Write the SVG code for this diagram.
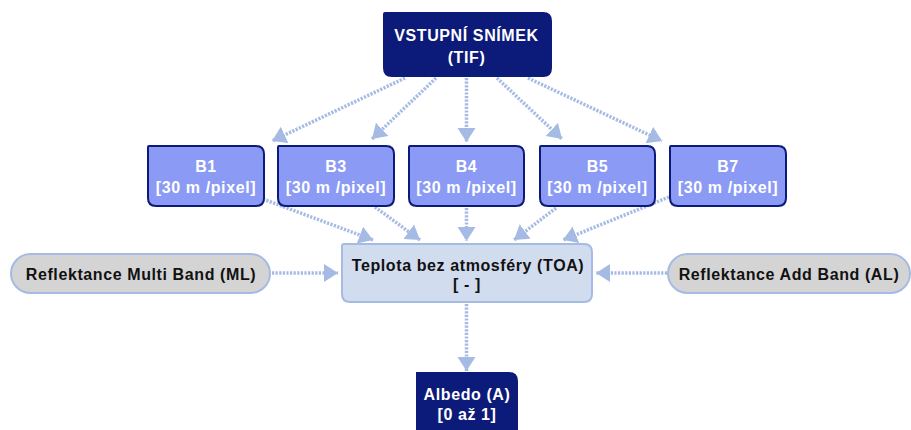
<svg xmlns="http://www.w3.org/2000/svg" width="911" height="430" viewBox="0 0 911 430">
<defs>
<marker id="arr" markerUnits="userSpaceOnUse" markerWidth="18" markerHeight="20" refX="14" refY="9" orient="auto">
<path d="M0,0 L14,9 L0,18 z" fill="#a6bbe3"/>
</marker>
<style>
.t{font-family:"Liberation Sans",Arial,sans-serif;font-weight:bold;font-size:16px;text-anchor:middle;letter-spacing:0.6px}
.w{fill:#ffffff}
.k{fill:#111111}
.dark{fill:#0c1a7a;stroke:#0c1a7a;stroke-width:2}
.band{fill:#8b9bf5;stroke:#0c1a7a;stroke-width:2}
.toa{fill:#d1dcef;stroke:#a6bbe3;stroke-width:2}
.pill{fill:#d4d4d4;stroke:#a6bbe3;stroke-width:2}
.c{fill:none;stroke:#a6bbe3;stroke-width:3.5;stroke-dasharray:2.2 1.4;marker-end:url(#arr)}
</style>
</defs>
<rect width="911" height="430" fill="#ffffff"/>
<g id="connectors">
<line class="c" x1="405" y1="78" x2="272" y2="141"/>
<line class="c" x1="436" y1="78" x2="372" y2="139"/>
<line class="c" x1="466.5" y1="78" x2="466.5" y2="142"/>
<line class="c" x1="497" y1="78" x2="562" y2="139"/>
<line class="c" x1="528" y1="78" x2="662" y2="141"/>
<line class="c" x1="263" y1="199" x2="373" y2="240"/>
<line class="c" x1="375" y1="207" x2="420" y2="240"/>
<line class="c" x1="466.5" y1="208" x2="466.5" y2="241"/>
<line class="c" x1="556" y1="208" x2="514" y2="240"/>
<line class="c" x1="669" y1="197" x2="563" y2="240"/>
<line class="c" x1="272" y1="273" x2="338" y2="273"/>
<line class="c" x1="667" y1="273" x2="596" y2="273"/>
<line class="c" x1="466.5" y1="304" x2="466.5" y2="371"/>
</g>
<g id="vstup">
<path class="dark" d="M385,13 H543 Q551,13 551,21 V68 Q551,76 543,76 H392 Q384,76 384,68 V14 Q384,13 385,13 Z"/>
<text class="t w" x="466.5" y="41">VSTUPNÍ SNÍMEK</text>
<text class="t w" x="466.5" y="63">(TIF)</text>
</g>
<g id="b1">
<path class="band" d="M149,146 H256 Q264,146 264,154 V198 Q264,206 256,206 H156 Q148,206 148,198 V147 Q148,146 149,146 Z"/>
<text class="t w" x="206" y="172">B1</text>
<text class="t w" x="206" y="193">[30 m /pixel]</text>
</g>
<g id="b3">
<path class="band" d="M279,146 H386 Q394,146 394,154 V198 Q394,206 386,206 H286 Q278,206 278,198 V147 Q278,146 279,146 Z"/>
<text class="t w" x="336" y="172">B3</text>
<text class="t w" x="336" y="193">[30 m /pixel]</text>
</g>
<g id="b4">
<path class="band" d="M410,146 H516 Q524,146 524,154 V198 Q524,206 516,206 H417 Q409,206 409,198 V147 Q409,146 410,146 Z"/>
<text class="t w" x="466.5" y="172">B4</text>
<text class="t w" x="466.5" y="193">[30 m /pixel]</text>
</g>
<g id="b5">
<path class="band" d="M541,146 H647 Q655,146 655,154 V198 Q655,206 647,206 H548 Q540,206 540,198 V147 Q540,146 541,146 Z"/>
<text class="t w" x="597.5" y="172">B5</text>
<text class="t w" x="597.5" y="193">[30 m /pixel]</text>
</g>
<g id="b7">
<path class="band" d="M671,146 H778 Q786,146 786,154 V198 Q786,206 778,206 H678 Q670,206 670,198 V147 Q670,146 671,146 Z"/>
<text class="t w" x="728" y="172">B7</text>
<text class="t w" x="728" y="193">[30 m /pixel]</text>
</g>
<g id="toa">
<path class="toa" d="M344,244 H584 Q592,244 592,252 V294 Q592,302 584,302 H350 Q342,302 342,294 V246 Q342,244 344,244 Z"/>
<text class="t k" x="468" y="271">Teplota bez atmosféry (TOA)</text>
<text class="t k" x="467" y="290">[ - ]</text>
</g>
<g id="ml">
<rect class="pill" x="11" y="254" width="259" height="39" rx="19.5"/>
<text class="t k" x="141" y="280">Reflektance Multi Band (ML)</text>
</g>
<g id="al">
<rect class="pill" x="668" y="254" width="242" height="39" rx="19.5"/>
<text class="t k" x="789" y="280">Reflektance Add Band (AL)</text>
</g>
<g id="albedo">
<path class="dark" d="M417,373 H509 Q517,373 517,381 V430 Q517,438 509,438 H425 Q417,438 417,430 Z"/>
<text class="t w" x="467" y="400">Albedo (A)</text>
<text class="t w" x="467" y="420">[0 až 1]</text>
</g>
</svg>
